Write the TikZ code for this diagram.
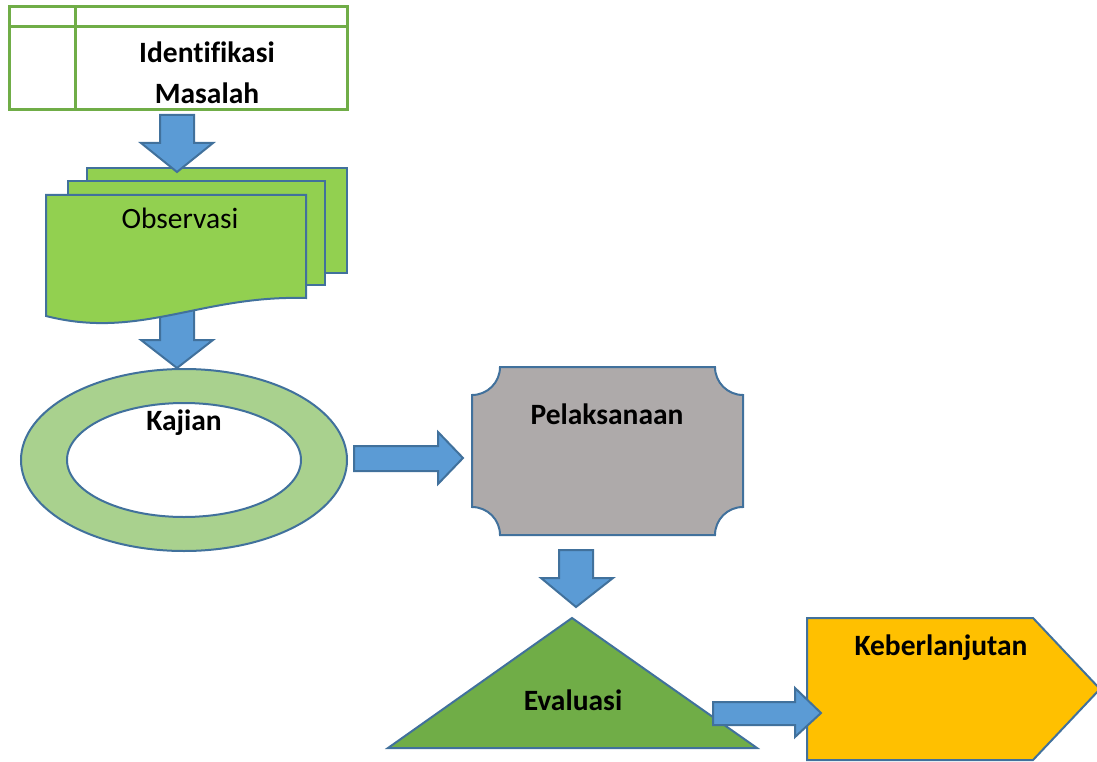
\documentclass[tikz,border=0pt]{standalone}
\usepackage{fontspec}
\setmainfont[Ligatures={NoCommon}]{Carlito}
\definecolor{arrowfill}{HTML}{5B9BD5}
\definecolor{edgeblue}{HTML}{41719C}
\definecolor{tablegreen}{HTML}{70AD47}
\definecolor{docgreen}{HTML}{92D050}
\definecolor{ringgreen}{HTML}{A9D18E}
\definecolor{plaquegray}{HTML}{AEAAAA}
\definecolor{trigreen}{HTML}{70AD47}
\definecolor{gold}{HTML}{FFC000}
\tikzset{
  blockarrow/.style={fill=arrowfill, draw=edgeblue, line width=2pt, line join=miter},
  shapeedge/.style={draw=edgeblue, line width=2pt, line join=miter},
  lbl/.style={font=\fontsize{29.5}{35}\selectfont\bfseries, inner sep=0pt, anchor=base},
  lblreg/.style={font=\fontsize{29.5}{35}\selectfont, inner sep=0pt, anchor=base}
}
\begin{document}
\begin{tikzpicture}[x=1pt, y=-1pt]
\useasboundingbox (0,0) rectangle (1097,762);
\clip (0,0) rectangle (1097,762);

% --- Identifikasi Masalah table ---
\draw[tablegreen, line width=3pt] (9,7) rectangle (347,110);
\draw[tablegreen, line width=3pt] (9,27) -- (347,27);
\draw[tablegreen, line width=3pt] (75,7) -- (75,110);
\node[lbl] (ident) at (207,63) {Identifikasi};
\node[lbl] (masalah) at (207,104) {Masalah};

% --- arrow 2 (behind documents) ---
\path[blockarrow] (160,300) -- (160,340) -- (141,340) -- (177,368) -- (213,340) -- (194,340) -- (194,300) -- cycle;

% --- Observasi multi-document ---
\path[shapeedge, fill=docgreen] (87,168) rectangle (347,273);
\path[shapeedge, fill=docgreen] (68,181) rectangle (325,285);
\path[shapeedge, fill=docgreen] (46,195) -- (306,195) -- (306,298)
   .. controls (200,295) and (140,340) .. (46,316) -- cycle;
\node[lblreg] (obs) at (180,229) {Observasi};

% --- arrow 1 ---
\path[blockarrow] (160,115) -- (160,143) -- (141,143) -- (177,172) -- (213,143) -- (194,143) -- (194,115) -- cycle;

% --- Kajian ring ---
\path[fill=ringgreen, even odd rule] (184,460) ellipse [x radius=163pt, y radius=91pt]
  (184,460) ellipse [x radius=117pt, y radius=57pt];
\draw[edgeblue, line width=2pt] (184,460) ellipse [x radius=163pt, y radius=91pt];
\draw[edgeblue, line width=2pt] (184,460) ellipse [x radius=117pt, y radius=57pt];
\node[lbl] (kajian) at (184,430) {Kajian};

% --- arrow 3 ---
\path[blockarrow] (354,446) -- (438,446) -- (438,432) -- (463,458) -- (438,484) -- (438,471) -- (354,471) -- cycle;

% --- Pelaksanaan plaque ---
\path[shapeedge, fill=plaquegray] (500,367) -- (715,367)
  arc[start angle=180, end angle=270, radius=28pt] -- (743,507)
  arc[start angle=90, end angle=180, radius=28pt] -- (500,535)
  arc[start angle=0, end angle=90, radius=28pt] -- (472,395)
  arc[start angle=-90, end angle=0, radius=28pt] -- cycle;
\node[lbl] (pelak) at (607,424) {Pelaksanaan};

% --- arrow 4 ---
\path[blockarrow] (559,550) -- (559,578) -- (541,578) -- (576,607) -- (613,578) -- (593,578) -- (593,550) -- cycle;

% --- Evaluasi triangle ---
\path[shapeedge, fill=trigreen] (572,618) -- (757,748) -- (388,748) -- cycle;
\node[lbl] (eval) at (573,710) {Evaluasi};

% --- Keberlanjutan pentagon ---
\path[shapeedge, fill=gold] (807,618) -- (1033,618) -- (1100,689) -- (1033,760) -- (807,760) -- cycle;
\node[lbl] (keber) at (941,655) {Keberlanjutan};

% --- arrow 5 ---
\path[blockarrow] (713,702) -- (795,702) -- (795,688) -- (821,713) -- (795,737) -- (795,725) -- (713,725) -- cycle;
\end{tikzpicture}
\end{document}
